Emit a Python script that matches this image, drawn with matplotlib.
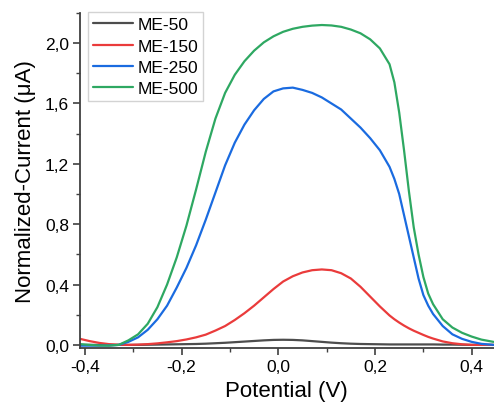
import matplotlib
matplotlib.use("Agg")
import matplotlib.pyplot as plt
from matplotlib.ticker import MultipleLocator, FuncFormatter

potential = [-0.41, -0.39, -0.37, -0.35, -0.33, -0.31, -0.29, -0.27, -0.25, -0.23,
             -0.21, -0.19, -0.17, -0.15, -0.13, -0.11, -0.09, -0.07, -0.05, -0.03,
             -0.01, 0.01, 0.03, 0.05, 0.07, 0.09, 0.11, 0.13, 0.15, 0.17,
             0.19, 0.21, 0.23, 0.24, 0.25, 0.26, 0.27, 0.28, 0.29, 0.30,
             0.31, 0.32, 0.34, 0.36, 0.38, 0.40, 0.42, 0.445]

me50 = [0.0, 0.0, 0.0, 0.0, 0.0, 0.0, 0.0, 0.001, 0.002, 0.003,
        0.004, 0.005, 0.006, 0.008, 0.011, 0.014, 0.018, 0.022, 0.026, 0.030,
        0.033, 0.034, 0.033, 0.030, 0.025, 0.020, 0.015, 0.011, 0.008, 0.006,
        0.005, 0.004, 0.003, 0.003, 0.003, 0.003, 0.003, 0.003, 0.003, 0.003,
        0.003, 0.003, 0.002, 0.002, 0.001, 0.0, 0.0, 0.0]

me150 = [0.04, 0.025, 0.013, 0.005, 0.001, 0.0, 0.002, 0.005, 0.010, 0.017,
         0.025, 0.036, 0.050, 0.068, 0.095, 0.125, 0.165, 0.21, 0.26, 0.315,
         0.37, 0.42, 0.455, 0.48, 0.495, 0.50, 0.495, 0.475, 0.44, 0.385,
         0.32, 0.255, 0.195, 0.17, 0.148, 0.128, 0.11, 0.094, 0.08, 0.066,
         0.053, 0.042, 0.023, 0.011, 0.004, 0.0, 0.0, 0.0]

me250 = [-0.005, -0.005, -0.005, -0.004, 0.0, 0.02, 0.05, 0.10, 0.17, 0.26,
         0.38, 0.51, 0.66, 0.83, 1.01, 1.19, 1.34, 1.46, 1.555, 1.63,
         1.68, 1.70, 1.705, 1.69, 1.67, 1.64, 1.60, 1.56, 1.50, 1.44,
         1.37, 1.29, 1.18, 1.10, 1.00, 0.86, 0.72, 0.58, 0.44, 0.33,
         0.26, 0.205, 0.125, 0.07, 0.04, 0.02, 0.007, 0.0]

me500 = [0.005, 0.0, -0.004, -0.005, 0.0, 0.03, 0.07, 0.14, 0.25, 0.40,
         0.58, 0.79, 1.03, 1.28, 1.50, 1.67, 1.79, 1.88, 1.95, 2.005,
         2.045, 2.075, 2.095, 2.108, 2.116, 2.12, 2.117, 2.108, 2.09, 2.065,
         2.025, 1.965, 1.86, 1.74, 1.54, 1.29, 1.02, 0.78, 0.60, 0.45,
         0.34, 0.27, 0.17, 0.115, 0.08, 0.055, 0.035, 0.02]

labels = ["ME-50", "ME-150", "ME-250", "ME-500"]
colors = ["#4d4d4d", "#ea3b3b", "#1a6be0", "#2ea862"]

plt.rcParams['font.family'] = ['Liberation Sans', 'DejaVu Sans']

fig = plt.figure(figsize=(4.94, 4.10), dpi=100)
ax = fig.add_axes([0.162, 0.149, 0.837, 0.817])

for ys, lab, c in zip([me50, me150, me250, me500], labels, colors):
    ax.plot(potential, ys, color=c, lw=1.6, label=lab,
            solid_joinstyle='round', solid_capstyle='round')

ax.set_xlim(-0.41, 0.445)
ax.set_ylim(-0.02, 2.2)

ax.xaxis.set_major_locator(MultipleLocator(0.2))
ax.xaxis.set_minor_locator(MultipleLocator(0.1))
ax.yaxis.set_major_locator(MultipleLocator(0.4))
ax.yaxis.set_minor_locator(MultipleLocator(0.2))

fmt = FuncFormatter(lambda v, p: ("%.1f" % (0.0 if abs(v) < 1e-9 else v)).replace('.', ','))
ax.xaxis.set_major_formatter(fmt)
ax.yaxis.set_major_formatter(fmt)

for side in ['top', 'right']:
    ax.spines[side].set_visible(False)
for side in ['left', 'bottom']:
    ax.spines[side].set_linewidth(1.3)
    ax.spines[side].set_color('#404040')

ax.tick_params(which='major', direction='out', length=5, width=1.2, color='#404040',
               labelsize=12.5, pad=3)
ax.tick_params(which='minor', direction='out', length=3, width=1.0, color='#404040')

ax.set_xlabel("Potential (V)", fontsize=16, labelpad=4)
ax.set_ylabel("Normalized-Current (μA)", fontsize=16, labelpad=6)

leg = ax.legend(loc='upper left', bbox_to_anchor=(88/494, 1 - 13/410),
                bbox_transform=fig.transFigure, fontsize=12.5, frameon=True,
                fancybox=False, edgecolor='#c8c8c8', handlelength=2.3,
                handletextpad=0.25, borderpad=0.3, labelspacing=0.35,
                borderaxespad=0)
leg.get_frame().set_linewidth(1.0)

fig.savefig("out.png", dpi=100)
